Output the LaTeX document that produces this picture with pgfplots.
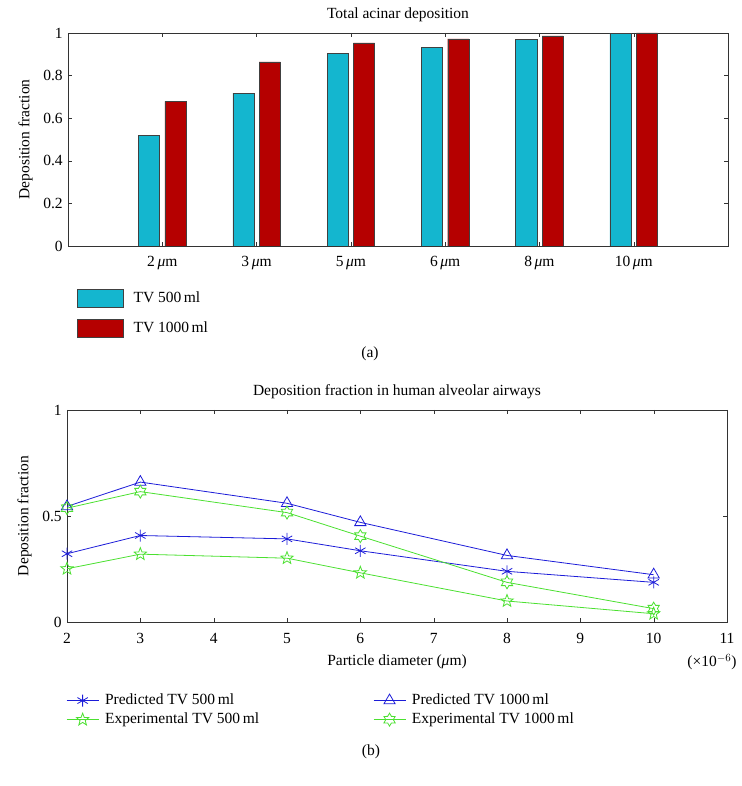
\documentclass[border=0pt]{standalone}
\usepackage{fontspec}
\setmainfont{Liberation Serif}
\usepackage{pgfplots}
\pgfplotsset{compat=1.18}
\usetikzlibrary{plotmarks}
\definecolor{cbar}{HTML}{14B6CF}
\definecolor{rbar}{HTML}{B50000}
\definecolor{pblue}{HTML}{1C1CD8}
\definecolor{egreen}{HTML}{4BE030}
\pgfdeclareplotmark{pentagram}{%
  \pgfpathmoveto{\pgfpointpolar{90}{\pgfplotmarksize}}%
  \pgfpathlineto{\pgfpointpolar{126}{0.42\pgfplotmarksize}}%
  \pgfpathlineto{\pgfpointpolar{162}{\pgfplotmarksize}}%
  \pgfpathlineto{\pgfpointpolar{198}{0.42\pgfplotmarksize}}%
  \pgfpathlineto{\pgfpointpolar{234}{\pgfplotmarksize}}%
  \pgfpathlineto{\pgfpointpolar{270}{0.42\pgfplotmarksize}}%
  \pgfpathlineto{\pgfpointpolar{306}{\pgfplotmarksize}}%
  \pgfpathlineto{\pgfpointpolar{342}{0.42\pgfplotmarksize}}%
  \pgfpathlineto{\pgfpointpolar{18}{\pgfplotmarksize}}%
  \pgfpathlineto{\pgfpointpolar{54}{0.42\pgfplotmarksize}}%
  \pgfpathclose\pgfusepathqstroke}
\pgfdeclareplotmark{hexagram}{%
  \pgfpathmoveto{\pgfpointpolar{90}{\pgfplotmarksize}}%
  \pgfpathlineto{\pgfpointpolar{120}{0.58\pgfplotmarksize}}%
  \pgfpathlineto{\pgfpointpolar{150}{\pgfplotmarksize}}%
  \pgfpathlineto{\pgfpointpolar{180}{0.58\pgfplotmarksize}}%
  \pgfpathlineto{\pgfpointpolar{210}{\pgfplotmarksize}}%
  \pgfpathlineto{\pgfpointpolar{240}{0.58\pgfplotmarksize}}%
  \pgfpathlineto{\pgfpointpolar{270}{\pgfplotmarksize}}%
  \pgfpathlineto{\pgfpointpolar{300}{0.58\pgfplotmarksize}}%
  \pgfpathlineto{\pgfpointpolar{330}{\pgfplotmarksize}}%
  \pgfpathlineto{\pgfpointpolar{0}{0.58\pgfplotmarksize}}%
  \pgfpathlineto{\pgfpointpolar{30}{\pgfplotmarksize}}%
  \pgfpathlineto{\pgfpointpolar{60}{0.58\pgfplotmarksize}}%
  \pgfpathclose\pgfusepathqstroke}
\pgfplotsset{
  every axis/.append style={/pgf/number format/assume math mode=true},
}
\begin{document}
\fontsize{15.5}{18}\selectfont
\begin{tikzpicture}
\useasboundingbox (0,0) rectangle (741pt,786pt);
% ---------- (a) ----------
\begin{axis}[
  at={(68pt,540pt)}, anchor=south west,
  scale only axis, width=660pt, height=213pt,
  xmin=0, xmax=7, ymin=0, ymax=1,
  xtick={1,2,3,4,5,6},
  xticklabels={2\,\textit{μ}m,3\,\textit{μ}m,5\,\textit{μ}m,6\,\textit{μ}m,8\,\textit{μ}m,10\,\textit{μ}m},
  xticklabel style={yshift=-5pt},
  ytick={0,0.2,0.4,0.6,0.8,1},
  yticklabels={0,0.2,0.4,0.6,0.8,1},
  title={Total acinar deposition},
  ylabel={Deposition fraction},
  axis line style={black!80}, tick style={black!80},
  legend style={at={(axis description cs:0.009,-0.19)}, anchor=north west, draw=none, fill=none,
    row sep=12pt, /tikz/every odd column/.style={column sep=0pt}},
  legend cell align=left,
  legend image code/.code={\draw[#1] (0pt,-9pt) rectangle (46pt,9pt);},
]
\addplot[ybar, bar width=0.225, bar shift=-0.14, fill=cbar, draw=black!75] coordinates {
  (1,0.519) (2,0.718) (3,0.906) (4,0.934) (5,0.969) (6,0.998)};
\addlegendentry{\hspace{8pt}TV 500\,ml}
\addplot[ybar, bar width=0.225, bar shift=0.14, fill=rbar, draw=black!75] coordinates {
  (1,0.679) (2,0.864) (3,0.953) (4,0.972) (5,0.986) (6,1.0)};
\addlegendentry{\hspace{8pt}TV 1000\,ml}
\end{axis}
\node at (370pt,432pt) {(a)};
% ---------- (b) ----------
\begin{axis}[
  at={(67pt,164pt)}, anchor=south west,
  scale only axis, width=660pt, height=212pt,
  xmin=2, xmax=11, ymin=0, ymax=1,
  xtick={2,3,4,5,6,7,8,9,10,11},
  xticklabel style={yshift=-6pt},
  ytick={0,0.5,1}, yticklabels={0,0.5,1},
  title={Deposition fraction in human alveolar airways},
  xlabel={Particle diameter (\textit{μ}m)},
  ylabel={Deposition fraction},
  axis line style={black!80}, tick style={black!80},
  legend columns=2,
  legend style={at={(axis description cs:-0.006,-0.32)}, anchor=north west, draw=none, fill=none,
    row sep=2pt, /tikz/column 2/.style={column sep=112pt}},
  legend cell align=left,
  legend image code/.code={\draw[mark repeat=2,mark phase=2,#1] plot coordinates {(0pt,0pt) (16pt,0pt) (32pt,0pt)};},
]
\addplot[color=pblue, line width=0.8pt, mark=asterisk, mark size=6pt] coordinates {
  (2,0.322) (3,0.408) (5,0.392) (6,0.336) (8,0.239) (10,0.187)};
\addlegendentry{\hspace{4pt}Predicted TV 500\,ml}
\addplot[color=pblue, line width=0.8pt, mark=triangle, mark size=6.5pt] coordinates {
  (2,0.545) (3,0.66) (5,0.56) (6,0.47) (8,0.314) (10,0.223)};
\addlegendentry{\hspace{4pt}Predicted TV 1000\,ml}
\addplot[color=egreen, line width=0.8pt, mark=pentagram, mark size=6.5pt] coordinates {
  (2,0.251) (3,0.32) (5,0.301) (6,0.232) (8,0.099) (10,0.039)};
\addlegendentry{\hspace{4pt}Experimental TV 500\,ml}
\addplot[color=egreen, line width=0.8pt, mark=hexagram, mark size=6.5pt] coordinates {
  (2,0.537) (3,0.615) (5,0.516) (6,0.405) (8,0.187) (10,0.063)};
\addlegendentry{\hspace{4pt}Experimental TV 1000\,ml}
\end{axis}
\node at (712pt,124pt) {(×10$^{-6}$)};
\node at (371pt,34pt) {(b)};
\end{tikzpicture}
\end{document}
